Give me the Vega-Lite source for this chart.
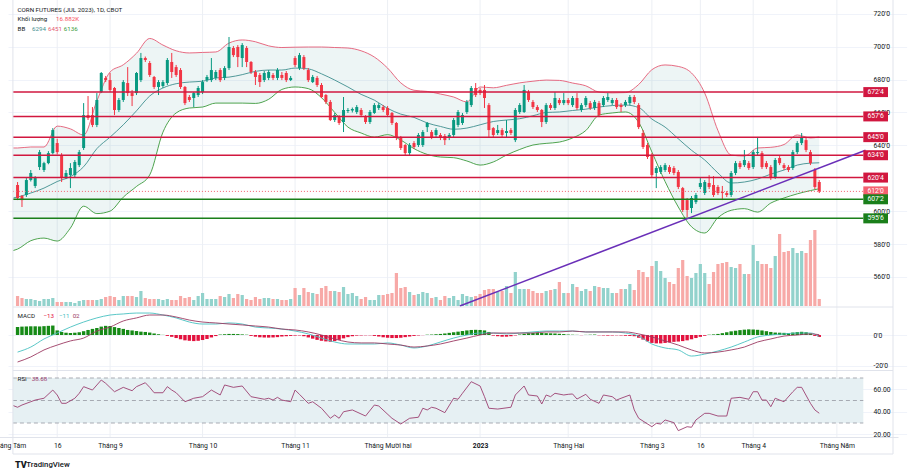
{
"$schema": "https://vega.github.io/schema/vega-lite/v6.json",
"autosize": {"type": "none"},
"width": 890,
"height": 471,
"padding": {"left": 8, "top": 0, "right": 16, "bottom": 0},
"background": "#ffffff",
"config": {
  "view": {"stroke": null},
  "font": "Roboto",
  "axis": {"title": null, "labelFont": "Roboto", "labelFontSize": 6.8, "labelColor": "#131722", "ticks": false, "domain": false, "grid": false},
  "text": {"font": "Roboto", "fontSize": 6.2, "baseline": "middle", "align": "left"}
},
"datasets": {
"candles": [
{"i":0,"o":6159,"h":6177,"l":6067,"c":6080,"v":24,"hist":52},
{"i":1,"o":6092,"h":6098,"l":6025,"c":6067,"v":19.2,"hist":55},
{"i":2,"o":6098,"h":6201,"l":6086,"c":6189,"v":16.8,"hist":56},
{"i":3,"o":6189,"h":6250,"l":6180,"c":6232,"v":16.8,"hist":57},
{"i":4,"o":6153,"h":6213,"l":6140,"c":6201,"v":14.4,"hist":57},
{"i":5,"o":6268,"h":6372,"l":6250,"c":6359,"v":12,"hist":56},
{"i":6,"o":6250,"h":6300,"l":6238,"c":6292,"v":16.8,"hist":58},
{"i":7,"o":6292,"h":6365,"l":6285,"c":6353,"v":16.8,"hist":60},
{"i":8,"o":6353,"h":6505,"l":6345,"c":6493,"v":19.2,"hist":62},
{"i":9,"o":6414,"h":6440,"l":6345,"c":6359,"v":9.6,"hist":30},
{"i":10,"o":6341,"h":6353,"l":6177,"c":6201,"v":9.6,"hist":20},
{"i":11,"o":6207,"h":6250,"l":6195,"c":6232,"v":9.6,"hist":15},
{"i":12,"o":6219,"h":6292,"l":6140,"c":6262,"v":9.6,"hist":13},
{"i":13,"o":6219,"h":6311,"l":6207,"c":6299,"v":7.2,"hist":15},
{"i":14,"o":6280,"h":6372,"l":6268,"c":6359,"v":12,"hist":18},
{"i":15,"o":6384,"h":6657,"l":6372,"c":6584,"v":14.4,"hist":25},
{"i":16,"o":6584,"h":6700,"l":6554,"c":6566,"v":14.4,"hist":33},
{"i":17,"o":6584,"h":6633,"l":6511,"c":6524,"v":14.4,"hist":40},
{"i":18,"o":6524,"h":6718,"l":6511,"c":6676,"v":14.4,"hist":46},
{"i":19,"o":6724,"h":6846,"l":6718,"c":6840,"v":16.8,"hist":55},
{"i":20,"o":6810,"h":6822,"l":6785,"c":6797,"v":21.6,"hist":60},
{"i":21,"o":6797,"h":6840,"l":6724,"c":6737,"v":24,"hist":59},
{"i":22,"o":6749,"h":6755,"l":6584,"c":6615,"v":21.6,"hist":52},
{"i":23,"o":6615,"h":6688,"l":6603,"c":6676,"v":14.4,"hist":46},
{"i":24,"o":6676,"h":6797,"l":6664,"c":6785,"v":24,"hist":40},
{"i":25,"o":6779,"h":6876,"l":6700,"c":6718,"v":24,"hist":33},
{"i":26,"o":6718,"h":6737,"l":6639,"c":6700,"v":24,"hist":30},
{"i":27,"o":6718,"h":6846,"l":6706,"c":6840,"v":21.6,"hist":26},
{"i":28,"o":6797,"h":6962,"l":6785,"c":6931,"v":36,"hist":22},
{"i":29,"o":6931,"h":6940,"l":6907,"c":6919,"v":19.2,"hist":20},
{"i":30,"o":6901,"h":6913,"l":6816,"c":6828,"v":16.8,"hist":16},
{"i":31,"o":6816,"h":6822,"l":6743,"c":6755,"v":16.8,"hist":10},
{"i":32,"o":6755,"h":6797,"l":6706,"c":6785,"v":16.8,"hist":5},
{"i":33,"o":6761,"h":6797,"l":6749,"c":6785,"v":14.4,"hist":1},
{"i":34,"o":6779,"h":6931,"l":6767,"c":6919,"v":16.8,"hist":-6},
{"i":35,"o":6907,"h":6962,"l":6810,"c":6846,"v":14.4,"hist":-12},
{"i":36,"o":6876,"h":6889,"l":6816,"c":6828,"v":14.4,"hist":-20},
{"i":37,"o":6858,"h":6870,"l":6743,"c":6755,"v":24,"hist":-28},
{"i":38,"o":6755,"h":6761,"l":6645,"c":6657,"v":19.2,"hist":-35},
{"i":39,"o":6694,"h":6706,"l":6664,"c":6676,"v":21.6,"hist":-38},
{"i":40,"o":6688,"h":6724,"l":6633,"c":6718,"v":14.4,"hist":-40},
{"i":41,"o":6706,"h":6761,"l":6694,"c":6749,"v":24,"hist":-38},
{"i":42,"o":6724,"h":6797,"l":6712,"c":6785,"v":31.2,"hist":-33},
{"i":43,"o":6797,"h":6828,"l":6785,"c":6816,"v":16.8,"hist":-26},
{"i":44,"o":6797,"h":6931,"l":6785,"c":6858,"v":16.8,"hist":-16},
{"i":45,"o":6810,"h":6858,"l":6797,"c":6846,"v":16.8,"hist":-7},
{"i":46,"o":6858,"h":6870,"l":6785,"c":6797,"v":24,"hist":3},
{"i":47,"o":6810,"h":6882,"l":6797,"c":6870,"v":21.6,"hist":5},
{"i":48,"o":6870,"h":7059,"l":6858,"c":6998,"v":28.8,"hist":7},
{"i":49,"o":6992,"h":7004,"l":6937,"c":6949,"v":19.2,"hist":7},
{"i":50,"o":6998,"h":7010,"l":6876,"c":6937,"v":28.8,"hist":6},
{"i":51,"o":6931,"h":7022,"l":6876,"c":7010,"v":26.4,"hist":4},
{"i":52,"o":6992,"h":7004,"l":6876,"c":6907,"v":16.8,"hist":2},
{"i":53,"o":6907,"h":6913,"l":6834,"c":6846,"v":14.4,"hist":-6},
{"i":54,"o":6846,"h":6858,"l":6767,"c":6816,"v":21.6,"hist":-11},
{"i":55,"o":6828,"h":6840,"l":6755,"c":6785,"v":16.8,"hist":-15},
{"i":56,"o":6797,"h":6852,"l":6785,"c":6840,"v":19.2,"hist":-17},
{"i":57,"o":6810,"h":6858,"l":6797,"c":6846,"v":19.2,"hist":-17},
{"i":58,"o":6828,"h":6840,"l":6797,"c":6810,"v":16.8,"hist":-16},
{"i":59,"o":6810,"h":6870,"l":6797,"c":6858,"v":16.8,"hist":-14},
{"i":60,"o":6828,"h":6846,"l":6797,"c":6810,"v":14.4,"hist":-10},
{"i":61,"o":6840,"h":6852,"l":6785,"c":6797,"v":14.4,"hist":-8},
{"i":62,"o":6797,"h":6822,"l":6791,"c":6810,"v":16.8,"hist":-6},
{"i":63,"o":6931,"h":6943,"l":6876,"c":6889,"v":43.2,"hist":-4},
{"i":64,"o":6870,"h":6962,"l":6858,"c":6949,"v":26.4,"hist":-3},
{"i":65,"o":6937,"h":6949,"l":6858,"c":6870,"v":43.2,"hist":-8},
{"i":66,"o":6858,"h":6870,"l":6785,"c":6797,"v":33.6,"hist":-16},
{"i":67,"o":6785,"h":6828,"l":6779,"c":6816,"v":31.2,"hist":-24},
{"i":68,"o":6810,"h":6822,"l":6755,"c":6767,"v":28.8,"hist":-32},
{"i":69,"o":6767,"h":6779,"l":6688,"c":6694,"v":43.2,"hist":-38},
{"i":70,"o":6706,"h":6712,"l":6651,"c":6664,"v":48,"hist":-42},
{"i":71,"o":6664,"h":6676,"l":6548,"c":6554,"v":36,"hist":-44},
{"i":72,"o":6554,"h":6597,"l":6542,"c":6584,"v":36,"hist":-40},
{"i":73,"o":6572,"h":6584,"l":6524,"c":6536,"v":33.6,"hist":-32},
{"i":74,"o":6542,"h":6694,"l":6481,"c":6615,"v":45.6,"hist":-22},
{"i":75,"o":6609,"h":6627,"l":6597,"c":6615,"v":28.8,"hist":-14},
{"i":76,"o":6612,"h":6630,"l":6600,"c":6621,"v":31.2,"hist":-8},
{"i":77,"o":6603,"h":6645,"l":6591,"c":6633,"v":24,"hist":-4},
{"i":78,"o":6615,"h":6627,"l":6572,"c":6584,"v":16.8,"hist":-3},
{"i":79,"o":6572,"h":6584,"l":6530,"c":6542,"v":21.6,"hist":-2},
{"i":80,"o":6542,"h":6615,"l":6530,"c":6603,"v":14.4,"hist":-2},
{"i":81,"o":6597,"h":6657,"l":6591,"c":6645,"v":14.4,"hist":-6},
{"i":82,"o":6627,"h":6657,"l":6615,"c":6645,"v":26.4,"hist":-10},
{"i":83,"o":6633,"h":6645,"l":6603,"c":6615,"v":26.4,"hist":-15},
{"i":84,"o":6627,"h":6639,"l":6572,"c":6584,"v":28.8,"hist":-18},
{"i":85,"o":6597,"h":6603,"l":6524,"c":6536,"v":31.2,"hist":-20},
{"i":86,"o":6536,"h":6542,"l":6432,"c":6445,"v":79.2,"hist":-20},
{"i":87,"o":6451,"h":6457,"l":6372,"c":6384,"v":43.2,"hist":-18},
{"i":88,"o":6402,"h":6408,"l":6341,"c":6353,"v":45.6,"hist":-14},
{"i":89,"o":6353,"h":6414,"l":6341,"c":6402,"v":33.6,"hist":-10},
{"i":90,"o":6414,"h":6426,"l":6378,"c":6390,"v":26.4,"hist":-6},
{"i":91,"o":6402,"h":6475,"l":6390,"c":6463,"v":28.8,"hist":-3},
{"i":92,"o":6402,"h":6493,"l":6390,"c":6481,"v":33.6,"hist":-1},
{"i":93,"o":6511,"h":6542,"l":6481,"c":6536,"v":31.2,"hist":2},
{"i":94,"o":6481,"h":6493,"l":6438,"c":6451,"v":19.2,"hist":3},
{"i":95,"o":6463,"h":6505,"l":6451,"c":6493,"v":21.6,"hist":5},
{"i":96,"o":6463,"h":6475,"l":6432,"c":6445,"v":14.4,"hist":7},
{"i":97,"o":6457,"h":6469,"l":6402,"c":6432,"v":24,"hist":10},
{"i":98,"o":6445,"h":6475,"l":6432,"c":6463,"v":19.2,"hist":14},
{"i":99,"o":6463,"h":6566,"l":6451,"c":6554,"v":24,"hist":18},
{"i":100,"o":6524,"h":6615,"l":6511,"c":6603,"v":14.4,"hist":22},
{"i":101,"o":6536,"h":6597,"l":6524,"c":6584,"v":28.8,"hist":26},
{"i":102,"o":6603,"h":6676,"l":6591,"c":6664,"v":24,"hist":30},
{"i":103,"o":6645,"h":6761,"l":6633,"c":6749,"v":21.6,"hist":33},
{"i":104,"o":6749,"h":6779,"l":6694,"c":6706,"v":24,"hist":34},
{"i":105,"o":6737,"h":6749,"l":6706,"c":6718,"v":28.8,"hist":33},
{"i":106,"o":6737,"h":6767,"l":6627,"c":6688,"v":38.4,"hist":30},
{"i":107,"o":6645,"h":6657,"l":6451,"c":6493,"v":40.8,"hist":20},
{"i":108,"o":6505,"h":6511,"l":6451,"c":6463,"v":40.8,"hist":-4},
{"i":109,"o":6475,"h":6524,"l":6463,"c":6493,"v":33.6,"hist":-8},
{"i":110,"o":6493,"h":6505,"l":6451,"c":6463,"v":36,"hist":-11},
{"i":111,"o":6475,"h":6554,"l":6445,"c":6487,"v":48,"hist":-11},
{"i":112,"o":6493,"h":6505,"l":6463,"c":6475,"v":31.2,"hist":-8},
{"i":113,"o":6432,"h":6627,"l":6420,"c":6615,"v":81.6,"hist":-3},
{"i":114,"o":6603,"h":6657,"l":6591,"c":6645,"v":40.8,"hist":3},
{"i":115,"o":6603,"h":6767,"l":6597,"c":6737,"v":40.8,"hist":8},
{"i":116,"o":6724,"h":6737,"l":6664,"c":6676,"v":40.8,"hist":12},
{"i":117,"o":6664,"h":6676,"l":6621,"c":6633,"v":36,"hist":14},
{"i":118,"o":6633,"h":6645,"l":6603,"c":6615,"v":31.2,"hist":15},
{"i":119,"o":6615,"h":6621,"l":6511,"c":6542,"v":31.2,"hist":13},
{"i":120,"o":6542,"h":6657,"l":6530,"c":6645,"v":36,"hist":12},
{"i":121,"o":6645,"h":6657,"l":6615,"c":6627,"v":38.4,"hist":11},
{"i":122,"o":6627,"h":6724,"l":6615,"c":6688,"v":40.8,"hist":10},
{"i":123,"o":6676,"h":6688,"l":6645,"c":6657,"v":57.6,"hist":8},
{"i":124,"o":6657,"h":6718,"l":6645,"c":6676,"v":31.2,"hist":6},
{"i":125,"o":6676,"h":6688,"l":6645,"c":6657,"v":31.2,"hist":3},
{"i":126,"o":6645,"h":6700,"l":6633,"c":6688,"v":52.8,"hist":2},
{"i":127,"o":6688,"h":6718,"l":6615,"c":6627,"v":45.6,"hist":1},
{"i":128,"o":6615,"h":6657,"l":6603,"c":6645,"v":36,"hist":-1},
{"i":129,"o":6645,"h":6700,"l":6633,"c":6688,"v":40.8,"hist":1},
{"i":130,"o":6657,"h":6670,"l":6615,"c":6627,"v":36,"hist":2},
{"i":131,"o":6627,"h":6676,"l":6615,"c":6664,"v":48,"hist":3},
{"i":132,"o":6657,"h":6670,"l":6572,"c":6584,"v":45.6,"hist":-2},
{"i":133,"o":6645,"h":6700,"l":6633,"c":6688,"v":43.2,"hist":-3},
{"i":134,"o":6676,"h":6718,"l":6664,"c":6694,"v":43.2,"hist":-4},
{"i":135,"o":6657,"h":6688,"l":6645,"c":6676,"v":31.2,"hist":-3},
{"i":136,"o":6676,"h":6688,"l":6621,"c":6633,"v":31.2,"hist":-2},
{"i":137,"o":6645,"h":6657,"l":6603,"c":6633,"v":40.8,"hist":-3},
{"i":138,"o":6645,"h":6676,"l":6633,"c":6664,"v":40.8,"hist":-5},
{"i":139,"o":6657,"h":6706,"l":6645,"c":6694,"v":52.8,"hist":-6},
{"i":140,"o":6694,"h":6706,"l":6651,"c":6664,"v":38.4,"hist":-8},
{"i":141,"o":6645,"h":6657,"l":6499,"c":6511,"v":86.4,"hist":-18},
{"i":142,"o":6475,"h":6493,"l":6378,"c":6390,"v":81.6,"hist":-30},
{"i":143,"o":6402,"h":6414,"l":6317,"c":6329,"v":69.6,"hist":-42},
{"i":144,"o":6341,"h":6353,"l":6207,"c":6219,"v":96,"hist":-52},
{"i":145,"o":6232,"h":6274,"l":6140,"c":6262,"v":108,"hist":-55},
{"i":146,"o":6238,"h":6280,"l":6226,"c":6268,"v":84,"hist":-55},
{"i":147,"o":6250,"h":6292,"l":6238,"c":6280,"v":67.2,"hist":-52},
{"i":148,"o":6268,"h":6280,"l":6226,"c":6238,"v":57.6,"hist":-48},
{"i":149,"o":6262,"h":6274,"l":6219,"c":6232,"v":52.8,"hist":-45},
{"i":150,"o":6238,"h":6250,"l":6134,"c":6147,"v":91.2,"hist":-43},
{"i":151,"o":6140,"h":6147,"l":5994,"c":6007,"v":110.4,"hist":-40},
{"i":152,"o":6067,"h":6080,"l":5964,"c":6007,"v":72,"hist":-35},
{"i":153,"o":6019,"h":6092,"l":5988,"c":6080,"v":67.2,"hist":-28},
{"i":154,"o":6055,"h":6110,"l":6043,"c":6098,"v":79.2,"hist":-20},
{"i":155,"o":6147,"h":6201,"l":6134,"c":6171,"v":100.8,"hist":-12},
{"i":156,"o":6110,"h":6189,"l":6098,"c":6177,"v":79.2,"hist":-5},
{"i":157,"o":6171,"h":6219,"l":6134,"c":6147,"v":52.8,"hist":2},
{"i":158,"o":6159,"h":6213,"l":6086,"c":6098,"v":81.6,"hist":4},
{"i":159,"o":6147,"h":6159,"l":6098,"c":6110,"v":100.8,"hist":7},
{"i":160,"o":6116,"h":6153,"l":6067,"c":6110,"v":103.2,"hist":12},
{"i":161,"o":6110,"h":6122,"l":6086,"c":6098,"v":105.6,"hist":18},
{"i":162,"o":6098,"h":6244,"l":6086,"c":6232,"v":93.6,"hist":24},
{"i":163,"o":6232,"h":6305,"l":6219,"c":6292,"v":91.2,"hist":28},
{"i":164,"o":6292,"h":6305,"l":6256,"c":6268,"v":100.8,"hist":32},
{"i":165,"o":6280,"h":6372,"l":6268,"c":6311,"v":76.8,"hist":35},
{"i":166,"o":6292,"h":6305,"l":6250,"c":6262,"v":76.8,"hist":37},
{"i":167,"o":6268,"h":6372,"l":6256,"c":6359,"v":146.4,"hist":36},
{"i":168,"o":6353,"h":6451,"l":6341,"c":6359,"v":108,"hist":34},
{"i":169,"o":6353,"h":6365,"l":6256,"c":6268,"v":100.8,"hist":30},
{"i":170,"o":6292,"h":6305,"l":6256,"c":6268,"v":100.8,"hist":25},
{"i":171,"o":6268,"h":6280,"l":6189,"c":6201,"v":91.2,"hist":20},
{"i":172,"o":6207,"h":6323,"l":6195,"c":6311,"v":120,"hist":16},
{"i":173,"o":6323,"h":6335,"l":6280,"c":6292,"v":172.8,"hist":15},
{"i":174,"o":6280,"h":6292,"l":6250,"c":6262,"v":129.6,"hist":14},
{"i":175,"o":6268,"h":6280,"l":6238,"c":6250,"v":132,"hist":13},
{"i":176,"o":6262,"h":6372,"l":6250,"c":6359,"v":139.2,"hist":16},
{"i":177,"o":6359,"h":6426,"l":6347,"c":6414,"v":127.2,"hist":19},
{"i":178,"o":6414,"h":6475,"l":6402,"c":6451,"v":132,"hist":21},
{"i":179,"o":6432,"h":6445,"l":6359,"c":6372,"v":127.2,"hist":18},
{"i":180,"o":6359,"h":6372,"l":6280,"c":6292,"v":158.4,"hist":10},
{"i":181,"o":6250,"h":6262,"l":6134,"c":6147,"v":182.4,"hist":-6},
{"i":182,"o":6177,"h":6189,"l":6110,"c":6120,"v":16.882,"hist":-13}
],
"bb": [
{"i":-1,"u":6384,"m":6080,"lo":5760},
{"i":0,"u":6384,"m":6086,"lo":5769},
{"i":3,"u":6390,"m":6110,"lo":5820},
{"i":6,"u":6390,"m":6140,"lo":5836},
{"i":9,"u":6517,"m":6180,"lo":5818},
{"i":12,"u":6500,"m":6210,"lo":5897},
{"i":15,"u":6463,"m":6270,"lo":6030},
{"i":18,"u":6670,"m":6380,"lo":5985},
{"i":21,"u":6846,"m":6450,"lo":6000},
{"i":24,"u":6890,"m":6525,"lo":6085},
{"i":27,"u":6960,"m":6610,"lo":6150},
{"i":30,"u":7050,"m":6700,"lo":6220},
{"i":33,"u":7010,"m":6749,"lo":6480},
{"i":36,"u":6975,"m":6775,"lo":6597},
{"i":39,"u":6962,"m":6785,"lo":6627},
{"i":42,"u":6965,"m":6790,"lo":6633},
{"i":45,"u":6968,"m":6810,"lo":6657},
{"i":48,"u":7022,"m":6815,"lo":6657},
{"i":51,"u":7041,"m":6830,"lo":6657},
{"i":54,"u":7030,"m":6850,"lo":6655},
{"i":57,"u":7005,"m":6858,"lo":6680},
{"i":60,"u":6995,"m":6858,"lo":6740},
{"i":63,"u":6997,"m":6870,"lo":6755},
{"i":66,"u":6998,"m":6865,"lo":6745},
{"i":69,"u":6998,"m":6835,"lo":6690},
{"i":72,"u":6995,"m":6797,"lo":6600},
{"i":75,"u":6992,"m":6755,"lo":6511},
{"i":78,"u":6975,"m":6710,"lo":6475},
{"i":81,"u":6937,"m":6675,"lo":6450},
{"i":84,"u":6870,"m":6625,"lo":6465},
{"i":87,"u":6780,"m":6590,"lo":6432},
{"i":90,"u":6735,"m":6570,"lo":6380},
{"i":93,"u":6728,"m":6536,"lo":6345},
{"i":96,"u":6712,"m":6515,"lo":6329},
{"i":99,"u":6694,"m":6498,"lo":6325},
{"i":102,"u":6664,"m":6505,"lo":6305},
{"i":105,"u":6755,"m":6525,"lo":6280},
{"i":108,"u":6750,"m":6545,"lo":6299},
{"i":111,"u":6765,"m":6554,"lo":6341},
{"i":114,"u":6780,"m":6562,"lo":6375},
{"i":117,"u":6790,"m":6580,"lo":6402},
{"i":120,"u":6797,"m":6600,"lo":6412},
{"i":123,"u":6795,"m":6603,"lo":6420},
{"i":126,"u":6779,"m":6612,"lo":6445},
{"i":129,"u":6762,"m":6620,"lo":6490},
{"i":132,"u":6724,"m":6633,"lo":6584},
{"i":135,"u":6719,"m":6642,"lo":6597},
{"i":138,"u":6721,"m":6645,"lo":6603},
{"i":141,"u":6770,"m":6630,"lo":6540},
{"i":144,"u":6860,"m":6560,"lo":6360},
{"i":147,"u":6889,"m":6511,"lo":6180},
{"i":150,"u":6880,"m":6440,"lo":6025},
{"i":153,"u":6840,"m":6370,"lo":5905},
{"i":156,"u":6718,"m":6311,"lo":5867},
{"i":159,"u":6490,"m":6232,"lo":5960},
{"i":162,"u":6341,"m":6171,"lo":6005},
{"i":165,"u":6335,"m":6177,"lo":6015},
{"i":168,"u":6384,"m":6195,"lo":5994},
{"i":171,"u":6388,"m":6225,"lo":6049},
{"i":174,"u":6405,"m":6250,"lo":6080},
{"i":177,"u":6463,"m":6280,"lo":6105},
{"i":180,"u":6445,"m":6292,"lo":6125},
{"i":182,"u":6451,"m":6294,"lo":6136}
],
"macdl": [
{"i":0,"m":-112,"s":-177},{"i":3,"m":-79,"s":-144},{"i":6,"m":-26,"s":-98},{"i":9,"m":13,"s":-66},{"i":12,"m":52,"s":-39},{"i":15,"m":85,"s":-20},{"i":18,"m":112,"s":26},{"i":21,"m":131,"s":52},{"i":24,"m":138,"s":92},{"i":27,"m":144,"s":112},{"i":30,"m":144,"s":131},{"i":33,"m":131,"s":131},{"i":36,"m":112,"s":118},{"i":39,"m":85,"s":98},{"i":42,"m":72,"s":85},{"i":45,"m":72,"s":79},{"i":48,"m":79,"s":72},{"i":51,"m":72,"s":66},{"i":54,"m":52,"s":59},{"i":57,"m":46,"s":52},{"i":60,"m":39,"s":39},{"i":63,"m":26,"s":33},{"i":66,"m":7,"s":20},{"i":69,"m":-20,"s":0},{"i":72,"m":-46,"s":-26},{"i":75,"m":-59,"s":-46},{"i":78,"m":-59,"s":-52},{"i":81,"m":-59,"s":-52},{"i":84,"m":-52,"s":-59},{"i":87,"m":-66,"s":-66},{"i":90,"m":-85,"s":-79},{"i":93,"m":-72,"s":-72},{"i":96,"m":-46,"s":-59},{"i":99,"m":-20,"s":-39},{"i":102,"m":0,"s":-20},{"i":105,"m":13,"s":0},{"i":108,"m":13,"s":13},{"i":111,"m":7,"s":13},{"i":114,"m":13,"s":13},{"i":117,"m":20,"s":13},{"i":120,"m":26,"s":20},{"i":123,"m":26,"s":20},{"i":126,"m":26,"s":26},{"i":129,"m":20,"s":20},{"i":132,"m":20,"s":20},{"i":135,"m":20,"s":20},{"i":138,"m":13,"s":20},{"i":141,"m":-7,"s":7},{"i":144,"m":-59,"s":-13},{"i":147,"m":-85,"s":-39},{"i":150,"m":-98,"s":-66},{"i":153,"m":-138,"s":-98},{"i":156,"m":-125,"s":-118},{"i":159,"m":-105,"s":-112},{"i":162,"m":-79,"s":-98},{"i":165,"m":-46,"s":-79},{"i":168,"m":-13,"s":-46},{"i":171,"m":0,"s":-26},{"i":174,"m":7,"s":-7},{"i":177,"m":13,"s":0},{"i":180,"m":13,"s":7},{"i":182,"m":-11,"s":2}
],
"rsi": [
{"i":-1,"r":45.5},{"i":0,"r":44},{"i":1,"r":46},{"i":3,"r":48.9},{"i":4,"r":50.4},{"i":6,"r":52},{"i":8,"r":59.3},{"i":9,"r":54.9},{"i":10,"r":47.5},{"i":11,"r":47.5},{"i":13,"r":52},{"i":14,"r":56.4},{"i":15,"r":62.3},{"i":17,"r":59.3},{"i":19,"r":68.2},{"i":20,"r":65.3},{"i":22,"r":57.8},{"i":24,"r":61.7},{"i":26,"r":58.7},{"i":27,"r":62.3},{"i":29,"r":65.8},{"i":30,"r":61.7},{"i":31,"r":56.9},{"i":33,"r":56.9},{"i":34,"r":62.3},{"i":35,"r":59.3},{"i":36,"r":56.9},{"i":38,"r":48.9},{"i":40,"r":52},{"i":42,"r":53.4},{"i":44,"r":59.3},{"i":46,"r":54.9},{"i":47,"r":63.8},{"i":49,"r":61.7},{"i":51,"r":62.9},{"i":53,"r":53.4},{"i":56,"r":51.1},{"i":57,"r":52},{"i":58,"r":50.4},{"i":59,"r":52.8},{"i":60,"r":50.4},{"i":62,"r":48.9},{"i":63,"r":59.3},{"i":64,"r":55.5},{"i":66,"r":47.5},{"i":67,"r":48.9},{"i":69,"r":43.1},{"i":71,"r":34.2},{"i":72,"r":37.1},{"i":73,"r":34.2},{"i":74,"r":40},{"i":76,"r":41.6},{"i":79,"r":36.2},{"i":81,"r":46},{"i":82,"r":45.1},{"i":85,"r":34.2},{"i":87,"r":29.1},{"i":89,"r":34.2},{"i":91,"r":35.1},{"i":92,"r":43.1},{"i":93,"r":41.6},{"i":94,"r":44},{"i":95,"r":43.1},{"i":97,"r":39.2},{"i":99,"r":52},{"i":100,"r":51.1},{"i":101,"r":56.4},{"i":103,"r":66.7},{"i":105,"r":62.9},{"i":106,"r":53.4},{"i":107,"r":43.1},{"i":109,"r":42.4},{"i":112,"r":44},{"i":113,"r":54.9},{"i":115,"r":62.9},{"i":116,"r":54.9},{"i":118,"r":54},{"i":119,"r":46.9},{"i":120,"r":54.9},{"i":121,"r":53.4},{"i":122,"r":56.4},{"i":124,"r":54.9},{"i":125,"r":55.5},{"i":126,"r":55.8},{"i":127,"r":51.3},{"i":129,"r":55.5},{"i":130,"r":51.1},{"i":132,"r":47.5},{"i":133,"r":54.9},{"i":135,"r":53.4},{"i":136,"r":50.4},{"i":137,"r":52},{"i":139,"r":54.9},{"i":140,"r":41.6},{"i":141,"r":34.2},{"i":144,"r":26.7},{"i":145,"r":29.7},{"i":146,"r":29.1},{"i":147,"r":32.7},{"i":149,"r":30.3},{"i":150,"r":23.2},{"i":152,"r":26.7},{"i":153,"r":26.2},{"i":154,"r":32.7},{"i":156,"r":38.6},{"i":157,"r":38.6},{"i":159,"r":36.2},{"i":161,"r":36.2},{"i":162,"r":52},{"i":164,"r":52.8},{"i":166,"r":51.1},{"i":167,"r":57.8},{"i":168,"r":57.8},{"i":169,"r":50.4},{"i":170,"r":50.4},{"i":171,"r":44.5},{"i":172,"r":52},{"i":173,"r":50.4},{"i":174,"r":48.9},{"i":176,"r":57.8},{"i":177,"r":61.7},{"i":178,"r":61.7},{"i":180,"r":47.5},{"i":181,"r":41.6},{"i":182,"r":38.68}
],
"levels": [
{"p":6724,"lbl":"672'4","k":"r"},
{"p":6576,"lbl":"657'6","k":"r"},
{"p":6450,"lbl":"645'0","k":"r"},
{"p":6340,"lbl":"634'0","k":"r"},
{"p":6204,"lbl":"620'4","k":"r"},
{"p":6120,"lbl":"612'0","k":"c"},
{"p":6072,"lbl":"607'2","k":"g"},
{"p":5956,"lbl":"595'6","k":"g"}
],
"trend": [{"i":100.4,"p":5423},{"i":192.5,"p":6370}],
"vgrid": [{"i":9},{"i":21},{"i":42},{"i":63},{"i":84},{"i":105},{"i":125},{"i":144},{"i":155},{"i":167},{"i":186}],
"rsilv": [{"r":70},{"r":50},{"r":30}],
"one": [{"n":1}]
},
"layer": [
  {
    "layer": [
      {"data": {"name": "vgrid"}, "mark": {"type": "rule", "color": "#eceff4", "strokeWidth": 1},
       "encoding": {"x": {"field": "i", "type": "quantitative", "scale": {"domain": [-3, 198.74], "range": [-8.65, 890], "nice": false, "zero": false}},
         "y": {"datum": 7284, "type": "quantitative", "axis": null}, "y2": {"datum": 4626}}},
      {"data": {"name": "bb"}, "mark": {"type": "area", "color": "#4f9f9f", "opacity": 0.1, "interpolate": "monotone"},
       "encoding": {"x": {"field": "i", "type": "quantitative", "scale": {"domain": [-3, 198.74], "range": [-8.65, 890], "nice": false, "zero": false}},
         "y": {"field": "u", "type": "quantitative", "scale": {"domain": [5423, 7284], "range": [306, 0], "nice": false, "zero": false}, "axis": null}, "y2": {"field": "lo"}}}
    ]
  },
  {
    "data": {"name": "candles"},
    "mark": {"type": "bar", "size": 3.2},
    "encoding": {
      "x": {"field": "i", "type": "quantitative", "scale": {"domain": [-3, 198.74], "range": [-8.65, 890], "nice": false, "zero": false}},
      "y": {"field": "v", "type": "quantitative", "scale": {"domain": [0, 734.4], "range": [306, 0], "nice": false, "zero": false}, "axis": null},
      "y2": {"datum": 0},
      "color": {"condition": {"test": "datum.c >= datum.o", "value": "#92d2cc"}, "value": "#f7a9a7"}
    }
  },
  {
    "layer": [
      {"data": {"name": "bb"}, "mark": {"type": "line", "color": "#e45a74", "strokeWidth": 0.9, "interpolate": "monotone"},
       "encoding": {"x": {"field": "i", "type": "quantitative", "scale": {"domain": [-3, 198.74], "range": [-8.65, 890], "nice": false, "zero": false}},
         "y": {"field": "u", "type": "quantitative", "scale": {"domain": [5423, 7284], "range": [306, 0], "nice": false, "zero": false},
         "axis": {"orient": "right", "offset": -30, "values": [5600, 5800, 6000, 6400, 6600, 6800, 7000, 7200],
           "labelExpr": "floor(datum.value / 10) + \"'\" + (datum.value % 10)", "grid": true, "gridColor": "#f0f3fa", "labelAlign": "left", "labelPadding": 5}}}},
      {"data": {"name": "bb"}, "mark": {"type": "line", "color": "#3f8f8f", "strokeWidth": 0.9, "interpolate": "monotone"},
       "encoding": {"x": {"field": "i", "type": "quantitative", "scale": {"domain": [-3, 198.74], "range": [-8.65, 890], "nice": false, "zero": false}},
         "y": {"field": "m", "type": "quantitative", "scale": {"domain": [5423, 7284], "range": [306, 0], "nice": false, "zero": false}}}},
      {"data": {"name": "bb"}, "mark": {"type": "line", "color": "#3c9a3c", "strokeWidth": 0.9, "interpolate": "monotone"},
       "encoding": {"x": {"field": "i", "type": "quantitative", "scale": {"domain": [-3, 198.74], "range": [-8.65, 890], "nice": false, "zero": false}},
         "y": {"field": "lo", "type": "quantitative", "scale": {"domain": [5423, 7284], "range": [306, 0], "nice": false, "zero": false}}}},
      {"data": {"name": "candles"}, "mark": {"type": "rule", "strokeWidth": 1},
       "encoding": {"x": {"field": "i", "type": "quantitative", "scale": {"domain": [-3, 198.74], "range": [-8.65, 890], "nice": false, "zero": false}},
         "y": {"field": "l", "type": "quantitative", "scale": {"domain": [5423, 7284], "range": [306, 0], "nice": false, "zero": false}},
         "y2": {"field": "h"},
         "color": {"condition": {"test": "datum.c >= datum.o", "value": "#089981"}, "value": "#f23645"}}},
      {"data": {"name": "candles"}, "mark": {"type": "bar", "size": 3},
       "encoding": {"x": {"field": "i", "type": "quantitative", "scale": {"domain": [-3, 198.74], "range": [-8.65, 890], "nice": false, "zero": false},
           "axis": {"orient": "bottom", "offset": -34, "values": [-2, 9, 21, 42, 63, 84, 105, 125, 144, 155, 167, 186],
             "labelExpr": "datum.value == -2 ? 'Tháng Tám' : datum.value == 9 ? '16' : datum.value == 21 ? 'Tháng 9' : datum.value == 42 ? 'Tháng 10' : datum.value == 63 ? 'Tháng 11' : datum.value == 84 ? 'Tháng Mười hai' : datum.value == 105 ? '2023' : datum.value == 125 ? 'Tháng Hai' : datum.value == 144 ? 'Tháng 3' : datum.value == 155 ? '16' : datum.value == 167 ? 'Tháng 4' : 'Tháng Năm'",
             "labelFontWeight": {"condition": {"test": "datum.value == 105", "value": "bold"}, "value": "normal"},
             "labelPadding": 5, "labelFlush": false, "labelOverlap": false, "labelBound": false,
             "domain": true, "domainColor": "#e0e3eb", "grid": false}},
         "y": {"field": "o", "type": "quantitative", "scale": {"domain": [5423, 7284], "range": [306, 0], "nice": false, "zero": false}},
         "y2": {"field": "c"},
         "color": {"condition": {"test": "datum.c >= datum.o", "value": "#089981"}, "value": "#f23645"}}},
      {"data": {"name": "levels"}, "transform": [{"filter": "datum.k != 'c'"}],
       "mark": {"type": "rule", "strokeWidth": 1.5, "color": "#d1173f"},
       "encoding": {"x": {"datum": -1.055}, "x2": {"datum": 192},
         "y": {"field": "p", "type": "quantitative", "scale": {"domain": [5423, 7284], "range": [306, 0], "nice": false, "zero": false}},
         "stroke": {"condition": {"test": "datum.k == 'g'", "value": "#1a7f1a"}, "value": "#d1173f"}}},
      {"data": {"name": "levels"}, "transform": [{"filter": "datum.k == 'c'"}],
       "mark": {"type": "rule", "strokeWidth": 1, "strokeDash": [1, 2], "color": "#f4616f"},
       "encoding": {"x": {"datum": -1.055}, "x2": {"datum": 192},
         "y": {"field": "p", "type": "quantitative", "scale": {"domain": [5423, 7284], "range": [306, 0], "nice": false, "zero": false}}}},
      {"data": {"name": "trend"}, "mark": {"type": "line", "color": "#6a2fb8", "strokeWidth": 1.6},
       "encoding": {"x": {"field": "i", "type": "quantitative", "scale": {"domain": [-3, 198.74], "range": [-8.65, 890], "nice": false, "zero": false}},
         "y": {"field": "p", "type": "quantitative", "scale": {"domain": [5423, 7284], "range": [306, 0], "nice": false, "zero": false}}}},
      {"data": {"name": "levels"},
       "mark": {"type": "rect", "yOffset": -5, "y2Offset": 5},
       "encoding": {"x": {"datum": 192}, "x2": {"datum": 197.6},
         "y": {"field": "p", "type": "quantitative", "scale": {"domain": [5423, 7284], "range": [306, 0], "nice": false, "zero": false}},
         "y2": {"field": "p"},
         "fill": {"condition": [{"test": "datum.k == 'g'", "value": "#1a7f1a"}, {"test": "datum.k == 'c'", "value": "#f4616f"}], "value": "#d1173f"}}},
      {"data": {"name": "levels"},
       "mark": {"type": "text", "color": "#ffffff", "align": "center", "fontSize": 6.8},
       "encoding": {"x": {"datum": 194.8},
         "y": {"field": "p", "type": "quantitative", "scale": {"domain": [5423, 7284], "range": [306, 0], "nice": false, "zero": false}},
         "text": {"field": "lbl"}}},
      {"data": {"name": "one"}, "mark": {"type": "text", "color": "#131722"},
       "encoding": {"x": {"datum": 0}, "y": {"datum": 7223}, "text": {"value": "CORN FUTURES (JUL 2023), 1D, CBOT"}}},
      {"data": {"name": "one"}, "mark": {"type": "text", "color": "#131722"},
       "encoding": {"x": {"datum": 0}, "y": {"datum": 7167}, "text": {"value": "Khối lượng"}}},
      {"data": {"name": "one"}, "mark": {"type": "text", "color": "#f7525f"},
       "encoding": {"x": {"datum": 8.75}, "y": {"datum": 7167}, "text": {"value": "16.882K"}}},
      {"data": {"name": "one"}, "mark": {"type": "text", "color": "#131722"},
       "encoding": {"x": {"datum": 0}, "y": {"datum": 7108}, "text": {"value": "BB"}}},
      {"data": {"name": "one"}, "mark": {"type": "text", "color": "#3f8f8f"},
       "encoding": {"x": {"datum": 3.28}, "y": {"datum": 7108}, "text": {"value": "6294"}}},
      {"data": {"name": "one"}, "mark": {"type": "text", "color": "#e45a74"},
       "encoding": {"x": {"datum": 6.9}, "y": {"datum": 7108}, "text": {"value": "6451"}}},
      {"data": {"name": "one"}, "mark": {"type": "text", "color": "#3c9a3c"},
       "encoding": {"x": {"datum": 10.5}, "y": {"datum": 7108}, "text": {"value": "6136"}}}
    ]
  },
  {
    "layer": [
      {"data": {"name": "one"}, "mark": {"type": "rule", "color": "#e0e3eb", "strokeWidth": 1},
       "encoding": {"x": {"datum": -1.055}, "x2": {"datum": 198.74}, "y": {"datum": 183.6}}},
      {"data": {"name": "candles"}, "mark": {"type": "bar", "size": 3.4},
       "encoding": {"x": {"field": "i", "type": "quantitative", "scale": {"domain": [-3, 198.74], "range": [-8.65, 890], "nice": false, "zero": false}},
         "y": {"field": "hist", "type": "quantitative", "scale": {"domain": [-229.5, 183.6], "range": [370, 307], "nice": false, "zero": false},
         "axis": {"orient": "right", "offset": -30, "values": [0, -200],
           "labelExpr": "(datum.value < 0 ? '-' : '') + floor(abs(datum.value) / 10) + \"'\" + (abs(datum.value) % 10)", "grid": true, "gridColor": "#f0f3fa", "labelAlign": "left", "labelPadding": 5}},
         "y2": {"datum": 0},
         "color": {"condition": {"test": "datum.hist >= 0", "value": "#168a16"}, "value": "#e3123e"}}},
      {"data": {"name": "macdl"}, "mark": {"type": "line", "color": "#47c1c1", "strokeWidth": 0.9, "interpolate": "monotone"},
       "encoding": {"x": {"field": "i", "type": "quantitative", "scale": {"domain": [-3, 198.74], "range": [-8.65, 890], "nice": false, "zero": false}},
         "y": {"field": "m", "type": "quantitative", "scale": {"domain": [-229.5, 183.6], "range": [370, 307], "nice": false, "zero": false}}}},
      {"data": {"name": "macdl"}, "mark": {"type": "line", "color": "#9c3a62", "strokeWidth": 0.9, "interpolate": "monotone"},
       "encoding": {"x": {"field": "i", "type": "quantitative", "scale": {"domain": [-3, 198.74], "range": [-8.65, 890], "nice": false, "zero": false}},
         "y": {"field": "s", "type": "quantitative", "scale": {"domain": [-229.5, 183.6], "range": [370, 307], "nice": false, "zero": false}}}},
      {"data": {"name": "one"}, "mark": {"type": "text", "color": "#131722"},
       "encoding": {"x": {"datum": 0}, "y": {"datum": 126.6}, "text": {"value": "MACD"}}},
      {"data": {"name": "one"}, "mark": {"type": "text", "color": "#e3123e"},
       "encoding": {"x": {"datum": 5.9}, "y": {"datum": 126.6}, "text": {"value": "−13"}}},
      {"data": {"name": "one"}, "mark": {"type": "text", "color": "#47c1c1"},
       "encoding": {"x": {"datum": 9.4}, "y": {"datum": 126.6}, "text": {"value": "−11"}}},
      {"data": {"name": "one"}, "mark": {"type": "text", "color": "#9c3a62"},
       "encoding": {"x": {"datum": 12.5}, "y": {"datum": 126.6}, "text": {"value": "02"}}}
    ]
  },
  {
    "layer": [
      {"data": {"name": "one"}, "mark": {"type": "rect", "color": "#e6f0f3"},
       "encoding": {"x": {"datum": -1.055}, "x2": {"datum": 192}, "y": {"datum": 30}, "y2": {"datum": 70}}},
      {"data": {"name": "rsilv"}, "mark": {"type": "rule", "color": "#9598a1", "strokeWidth": 0.8, "strokeDash": [4, 3]},
       "encoding": {"x": {"datum": -1.055}, "x2": {"datum": 192}, "y": {"field": "r", "type": "quantitative", "scale": {"domain": [17.56, 76.22], "range": [437, 371], "nice": false, "zero": false}}}},
      {"data": {"name": "rsi"}, "mark": {"type": "line", "color": "#9c4070", "strokeWidth": 0.9},
       "encoding": {"x": {"field": "i", "type": "quantitative", "scale": {"domain": [-3, 198.74], "range": [-8.65, 890], "nice": false, "zero": false}},
         "y": {"field": "r", "type": "quantitative", "scale": {"domain": [17.56, 76.22], "range": [437, 371], "nice": false, "zero": false},
         "axis": {"orient": "right", "offset": -30, "values": [20, 40, 60], "format": ".2f", "grid": true, "gridColor": "#f0f3fa", "labelAlign": "left", "labelPadding": 5}}}},
      {"data": {"name": "one"}, "mark": {"type": "rule", "color": "#e0e3eb", "strokeWidth": 1},
       "encoding": {"x": {"datum": -1.055}, "x2": {"datum": 198.74}, "y": {"datum": 76.67}}},
      {"data": {"name": "one"}, "mark": {"type": "rule", "color": "#e0e3eb", "strokeWidth": 1},
       "encoding": {"x": {"datum": -1.055}, "x2": {"datum": 198.74}, "y": {"datum": 2.44}}},
      {"data": {"name": "one"}, "mark": {"type": "rule", "color": "#e0e3eb", "strokeWidth": 1},
       "encoding": {"x": {"datum": -1.055}, "y": {"datum": 406}, "y2": {"datum": 2.44}}},
      {"data": {"name": "one"}, "mark": {"type": "rule", "color": "#e0e3eb", "strokeWidth": 1},
       "encoding": {"x": {"datum": 198.74}, "y": {"datum": 406}, "y2": {"datum": 2.44}}},
      {"data": {"name": "one"}, "mark": {"type": "text", "color": "#131722"},
       "encoding": {"x": {"datum": 0}, "y": {"datum": 69.1}, "text": {"value": "RSI"}}},
      {"data": {"name": "one"}, "mark": {"type": "text", "color": "#9c4070"},
       "encoding": {"x": {"datum": 3.2}, "y": {"datum": 69.1}, "text": {"value": "38.68"}}},
      {"data": {"name": "one"}, "mark": {"type": "text", "color": "#131722", "fontSize": 9, "fontWeight": 900},
       "encoding": {"x": {"datum": -0.6}, "y": {"datum": -7.33}, "text": {"value": "TV"}}},
      {"data": {"name": "one"}, "mark": {"type": "text", "color": "#131722", "fontSize": 7.8, "fontWeight": 500},
       "encoding": {"x": {"datum": 2.0}, "y": {"datum": -7.33}, "text": {"value": "TradingView"}}}
    ]
  }
],
"resolve": {"scale": {"y": "independent"}, "axis": {"y": "independent"}}
}
